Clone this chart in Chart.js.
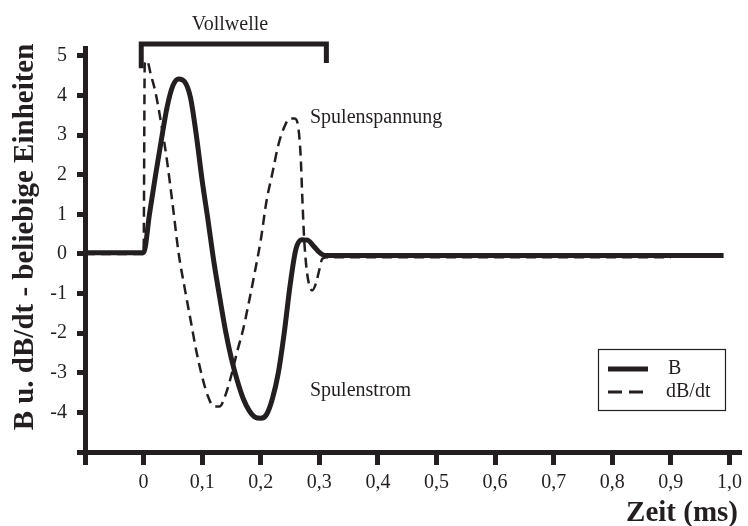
<!DOCTYPE html>
<html lang="de">
<head>
<meta charset="utf-8">
<title>Vollwelle</title>
<script src="https://cdn.jsdelivr.net/npm/chart.js@4.4.1/dist/chart.umd.min.js"></script>
<style>
  html, body { margin: 0; padding: 0; background: #fff; }
</style>
</head>
<body>
<canvas id="chart" width="748" height="526"></canvas>
<script>
// Spulenstrom B
const zeitB = [-0.1, 0, 0.01, 0.02, 0.03, 0.04, 0.05, 0.06, 0.07, 0.08, 0.09, 0.1, 0.11, 0.12, 0.13, 0.14, 0.15, 0.16, 0.17, 0.18, 0.19, 0.2, 0.21, 0.22, 0.23, 0.24, 0.25, 0.26, 0.27, 0.28, 0.29, 0.3, 0.31, 0.99];
const werteB = [0.03, 0.03, 1.0, 1.95, 2.85, 3.7, 4.25, 4.42, 4.35, 3.95, 3.0, 1.85, 0.85, -0.2, -1.1, -1.95, -2.65, -3.2, -3.65, -3.95, -4.12, -4.15, -4.05, -3.65, -3.0, -2.0, -0.8, 0.12, 0.36, 0.35, 0.2, 0.04, -0.04, -0.04];

// Spulenspannung dB/dt
const zeitDB = [-0.1, 0, 0.002, 0.006, 0.012, 0.02, 0.03, 0.04, 0.05, 0.06, 0.07, 0.08, 0.09, 0.1, 0.11, 0.12, 0.13, 0.14, 0.15, 0.16, 0.17, 0.18, 0.19, 0.2, 0.21, 0.22, 0.23, 0.24, 0.25, 0.258, 0.264, 0.268, 0.271, 0.274, 0.278, 0.283, 0.288, 0.294, 0.3, 0.305, 0.315, 0.9];
const werteDB = [0, 0, 4.8, 4.88, 4.55, 4.1, 3.3, 2.35, 1.2, 0.0, -0.85, -1.65, -2.45, -3.1, -3.6, -3.85, -3.85, -3.55, -3.05, -2.45, -1.9, -1.2, -0.45, 0.35, 1.35, 2.05, 2.75, 3.2, 3.42, 3.42, 3.2, 2.5, 1.4, 0.4, -0.35, -0.8, -0.92, -0.75, -0.4, -0.12, -0.08, -0.08];

// Klammer "Vollwelle"
const klammerZeit = [-0.004, -0.004, 0.312, 0.312];
const klammerWerte = [4.69, 5.3, 5.3, 4.82];

const xTicks = [-0.1, 0, 0.1, 0.2, 0.3, 0.4, 0.5, 0.6, 0.7, 0.8, 0.9, 1.0];
const xTickLabels = ['', '0', '0,1', '0,2', '0,3', '0,4', '0,5', '0,6', '0,7', '0,8', '0,9', '1,0'];
const yTicks = [-5, -4, -3, -2, -1, 0, 1, 2, 3, 4, 5];
const yTickLabels = ['', '-4', '-3', '-2', '-1', '0', '1', '2', '3', '4', '5'];

const ink = '#231f20';
const serif = "'Liberation Serif', 'Times New Roman', serif";

const toPoints = (xs, ys) => xs.map((x, i) => ({ x: x, y: ys[i] }));

Chart.defaults.font.family = serif;
Chart.defaults.color = ink;

const beschriftung = {
    id: 'beschriftung',
    afterDraw(chart) {
        const ctx = chart.ctx;
        ctx.save();
        ctx.fillStyle = ink;
        ctx.strokeStyle = ink;

        ctx.font = '20px ' + serif;
        ctx.textBaseline = 'alphabetic';
        ctx.textAlign = 'center';
        ctx.fillText('Vollwelle', 230, 30);
        ctx.textAlign = 'left';
        ctx.fillText('Spulenspannung', 310, 123);
        ctx.fillText('Spulenstrom', 310, 396);

        // Achsentitel
        ctx.font = 'bold 29px ' + serif;
        ctx.textAlign = 'right';
        ctx.fillText('Zeit (ms)', 738, 521);
        ctx.save();
        ctx.translate(33, 237);
        ctx.rotate(-Math.PI / 2);
        ctx.textAlign = 'center';
        ctx.fillText('B u. dB/dt - beliebige Einheiten', 0, 0);
        ctx.restore();

        // Legende
        ctx.lineWidth = 1.2;
        ctx.strokeRect(598.5, 349.5, 127, 61);
        ctx.lineWidth = 5;
        ctx.beginPath();
        ctx.moveTo(608, 369);
        ctx.lineTo(648, 369);
        ctx.stroke();
        ctx.lineWidth = 3;
        ctx.setLineDash([14, 7]);
        ctx.beginPath();
        ctx.moveTo(608, 392);
        ctx.lineTo(644, 392);
        ctx.stroke();
        ctx.setLineDash([]);
        ctx.font = '20px ' + serif;
        ctx.textAlign = 'left';
        ctx.textBaseline = 'middle';
        ctx.fillText('B', 668, 369);
        ctx.fillText('dB/dt', 666, 392);
        ctx.restore();
    }
};

new Chart(document.getElementById('chart'), {
    type: 'line',
    data: {
        datasets: [
            {
                label: 'B',
                data: toPoints(zeitB, werteB),
                borderColor: ink,
                borderWidth: 5,
                pointRadius: 0,
                cubicInterpolationMode: 'monotone',
                borderJoinStyle: 'round'
            },
            {
                label: 'dB/dt',
                data: toPoints(zeitDB, werteDB),
                borderColor: ink,
                borderWidth: 2.5,
                borderDash: [10, 6],
                pointRadius: 0,
                cubicInterpolationMode: 'monotone'
            },
            {
                label: 'Vollwelle',
                data: toPoints(klammerZeit, klammerWerte),
                borderColor: ink,
                borderWidth: 5,
                pointRadius: 0,
                tension: 0,
                borderJoinStyle: 'miter',
                clip: false
            }
        ]
    },
    options: {
        responsive: false,
        animation: false,
        events: [],
        layout: { padding: { left: 0, top: 48, right: 3, bottom: 0 } },
        plugins: {
            legend: { display: false },
            tooltip: { enabled: false }
        },
        scales: {
            x: {
                type: 'linear',
                min: -0.1,
                max: 1.02,
                afterBuildTicks: (scale) => { scale.ticks = xTicks.map(v => ({ value: v })); },
                afterFit: (scale) => { scale.height = 74; },
                grid: { drawOnChartArea: false, drawTicks: true, tickLength: 13, tickWidth: 5, tickColor: ink },
                border: { display: true, width: 5, color: ink },
                ticks: {
                    autoSkip: false,
                    maxRotation: 0,
                    padding: 6,
                    font: { size: 20 },
                    color: ink,
                    callback: (value, index) => xTickLabels[index]
                }
            },
            y: {
                type: 'linear',
                min: -5,
                max: 5.2,
                afterBuildTicks: (scale) => { scale.ticks = yTicks.map(v => ({ value: v })); },
                afterFit: (scale) => { scale.width = 85; },
                grid: { drawOnChartArea: false, drawTicks: true, tickLength: 8, tickWidth: 5, tickColor: ink },
                border: { display: true, width: 5, color: ink },
                ticks: {
                    autoSkip: false,
                    padding: 10,
                    font: { size: 20 },
                    color: ink,
                    callback: (value, index) => yTickLabels[index]
                }
            }
        }
    },
    plugins: [beschriftung]
});
</script>
</body>
</html>
